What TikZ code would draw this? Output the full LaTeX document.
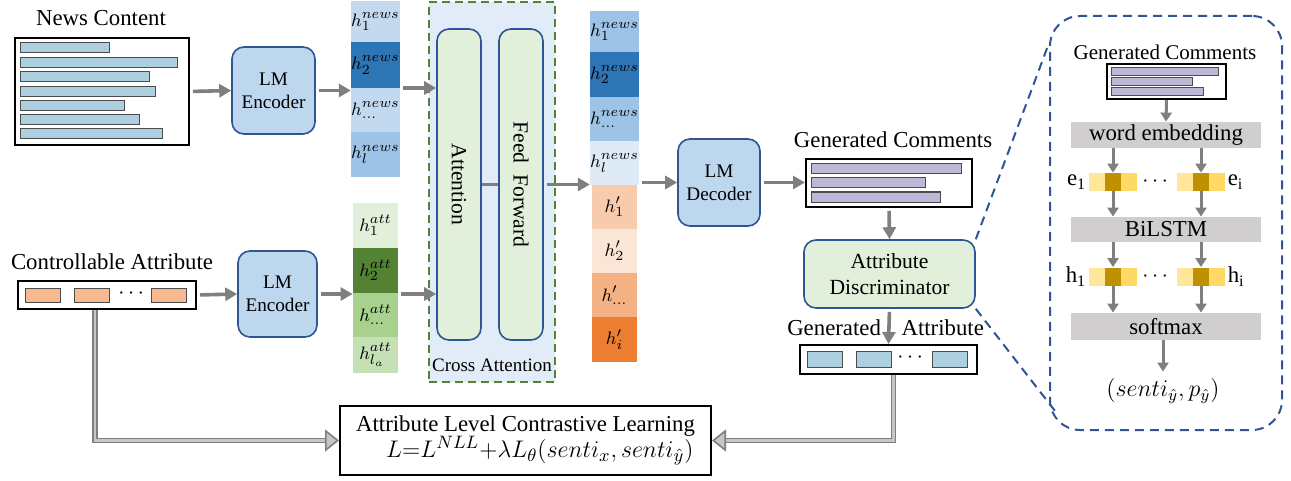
\documentclass[tikz,border=0pt]{standalone}
\usepackage{fontspec}
\setmainfont{Liberation Serif}
\usepackage{amsmath, amssymb}
\usetikzlibrary{arrows.meta, positioning, calc}
\definecolor{EncFill}{HTML}{BDD7EE}
\definecolor{EncLine}{HTML}{2F5597}
\definecolor{BarBlue}{HTML}{AECFE0}
\definecolor{BarPurple}{HTML}{BDB8D6}
\definecolor{AttrOrange}{HTML}{F8B990}
\definecolor{CrossFill}{HTML}{E1ECF8}
\definecolor{CrossLine}{HTML}{548235}
\definecolor{SoftGreen}{HTML}{E2EFDA}
\definecolor{ArrGray}{HTML}{7F7F7F}
\definecolor{BarGray}{HTML}{D0CECE}
% hidden state colours
\definecolor{NewsA}{HTML}{C3D9EF}
\definecolor{NewsB}{HTML}{2E75B6}
\definecolor{NewsC}{HTML}{9DC3E6}
\definecolor{NewsD}{HTML}{DEEBF7}
\definecolor{AttA}{HTML}{E2EFDA}
\definecolor{AttB}{HTML}{548235}
\definecolor{AttC}{HTML}{A9D18E}
\definecolor{AttD}{HTML}{C5E0B4}
\definecolor{OutA}{HTML}{F8CBAD}
\definecolor{OutB}{HTML}{FBE5D6}
\definecolor{OutC}{HTML}{F4B183}
\definecolor{OutD}{HTML}{ED7D31}
\definecolor{EmbA}{HTML}{FFE699}
\definecolor{EmbB}{HTML}{BF9000}
\definecolor{EmbC}{HTML}{FFD966}

\begin{document}
\begin{tikzpicture}[x=0.5pt, y=-0.5pt, font=\fontsize{11.4}{13}\selectfont,
    arr/.style={-{Triangle[length=6pt,width=6.5pt]}, ArrGray, line width=1.8pt, shorten <=1.5pt},
    thinarr/.style={-{Triangle[length=4.5pt,width=5.5pt]}, ArrGray, line width=1.5pt},
    dblarr/.style={-{Triangle[length=7pt,width=11pt,fill=gray!45]}, draw=ArrGray, double=gray!45,
                   double distance=1.3pt, line width=0.8pt},
    lmbox/.style={draw=EncLine, fill=EncFill, line width=0.8pt, rounded corners=6pt,
                  align=center, inner sep=0pt, font=\fontsize{9.6}{11.5}\selectfont},
    greenbox/.style={draw=EncLine, fill=SoftGreen, line width=0.8pt, rounded corners=6pt,
                     align=center, inner sep=0pt},
    cell/.style={minimum width=22.5pt, inner sep=0pt, font=\fontsize{9.5}{11}\selectfont},
    txtbox/.style={draw=black, line width=1pt, fill=white, inner sep=0pt},
    bar/.style={draw=black!70, line width=0.5pt},
    graybar/.style={fill=BarGray, minimum width=95pt, inner sep=0pt},
    embcell/.style={minimum width=8pt, minimum height=9pt, inner sep=0pt}]
  \useasboundingbox (0,0) rectangle (1291,481);

  % News content input
  \node (newslbl) at (101,18) {News Content};
  \node[txtbox, minimum width=87pt, minimum height=53.5pt] (newsbox) at (102,91.5) {};
  \foreach \yy/\xe in {48/109, 62.5/177, 76.5/149, 91.5/155, 105.5/124, 119.5/139, 134/162}
    \draw[bar, fill=BarBlue] (20,\yy-5) rectangle (\xe,\yy+5);

  % Controllable attribute input
  \node (ctrllbl) at (112,262) {Controllable Attribute};
  \node[txtbox, minimum width=89pt, minimum height=14pt] (ctrl) at (107,295) {};
  \foreach \xx in {42.5, 91.5, 168.5}
    \draw[bar, fill=AttrOrange] (\xx-17.5,288) rectangle (\xx+17.5,302);
  \node at (133,294) {$\cdots$};

  % LM encoders
  \node[lmbox, minimum width=41.5pt, minimum height=43.5pt] (enc1) at (273.5,90.5) {LM\\Encoder};
  \node[lmbox, minimum width=39.5pt, minimum height=43pt] (enc2) at (277.5,294) {LM\\Encoder};
  \draw[arr] (newsbox.east) -- (enc1.west);
  \draw[arr] (ctrl.east) -- (enc2.west);

  % news hidden states
  \foreach \yy/\hh/\cc/\lab [count=\i] in {21.5/41/NewsA/{h^{news}_1}, 65/46/NewsB/{h^{news}_2},
      110/44/NewsA/{h^{news}_{\dots}}, 154.5/45/NewsC/{h^{news}_l}}
    \node[cell, fill=\cc, minimum height=\hh*0.5pt] (hn\i) at (375.5,\yy) {$\lab$};

  % attribute hidden states
  \foreach \yy/\hh/\cc/\lab [count=\i] in {225.5/45/AttA/{h^{att}_1}, 270.5/45/AttB/{h^{att}_2},
      315/44/AttC/{h^{att}_{\dots}}, 355/36/AttD/{h^{att}_{l_a}}}
    \node[cell, fill=\cc, minimum height=\hh*0.5pt] (ha\i) at (375.5,\yy) {$\lab$};
  \draw[arr] (enc1.east) -- (enc1.east -| hn1.west);
  \draw[arr] (enc2.east) -- (enc2.east -| ha1.west);

  % Cross attention block
  \node[draw=CrossLine, dash pattern=on 4pt off 2.5pt, fill=CrossFill, line width=1pt,
        minimum width=63pt, minimum height=190pt, inner sep=0pt] (cross) at (492,192) {};
  \node[font=\fontsize{9.5}{11}\selectfont] (crosslbl) at ([yshift=9pt]cross.south) {Cross Attention};
  \node[greenbox, minimum width=22pt, minimum height=155.5pt] (attn) at (459,184.5) {};
  \node[greenbox, minimum width=22pt, minimum height=155.5pt] (ff) at (521,184.5) {};
  \node[rotate=-90, font=\fontsize{10.8}{12}\selectfont] at (attn) {Attention};
  \node[rotate=-90, font=\fontsize{10.8}{12}\selectfont] at (ff) {Feed~~Forward};
  \draw[arr] (hn2.east |- 0,88) -- (attn.west |- 0,88);
  \draw[arr] (ha3.east |- enc2.east) -- (attn.west |- enc2.east);
  \draw[ArrGray, line width=1.8pt] (attn.east) -- (ff.west);

  % fused hidden states
  \foreach \yy/\hh/\cc/\lab [count=\i] in {31.5/41/NewsC/{h^{news}_1}, 74.5/45/NewsB/{h^{news}_2},
      119/44/NewsC/{h^{news}_{\dots}}, 163/44/NewsD/{h^{news}_l}, 207/44/OutA/{h'_1},
      251/44/OutB/{h'_2}, 295/44/OutC/{h'_{\dots}}, 339.5/45/OutD/{h'_i}}
    \node[cell, fill=\cc, minimum height=\hh*0.5pt] (ho\i) at (614.5,\yy) {$\lab$};
  \draw[arr] (ff.east) -- (ff.east -| ho1.west);

  % LM decoder
  \node[lmbox, minimum width=41pt, minimum height=43.5pt] (dec) at (719,182.5) {LM\\Decoder};
  \draw[arr] (ho1.east |- dec.west) -- (dec.west);

  % Generated comments
  \node (gclbl) at (893,140) {Generated Comments};
  \node[txtbox, minimum width=83pt, minimum height=24pt] (gcbox) at (889,183) {};
  \foreach \yy/\xe in {169/961, 183/925, 197/940}
    \draw[bar, fill=BarPurple] (811,\yy-5) rectangle (\xe,\yy+5);
  \draw[arr] (dec.east) -- (dec.east -| gcbox.west);

  % Attribute discriminator
  \node[greenbox, minimum width=85.5pt, minimum height=34pt, font=\fontsize{10.8}{13}\selectfont]
       (disc) at (889.5,274) {Attribute\\Discriminator};
  \draw[arr] (gcbox.south) -- (disc.north);

  % Generated attribute
  \node[anchor=east] (galbl) at (888,328) {Generated};
  \node[anchor=west] (galbl2) at (894.5,328) {Attribute};
  \node[txtbox, minimum width=88.5pt, minimum height=14.5pt] (gabox) at (888.5,359.5) {};
  \foreach \xx in {824.5, 873.5, 950}
    \draw[bar, fill=BarBlue] (\xx-17.5,351) rectangle (\xx+17.5,367);
  \node at (912,358) {$\cdots$};
  \draw[arr] (disc.south) -- (gabox.north);

  % Contrastive loss
  \node[txtbox, minimum width=185.5pt, minimum height=33.5pt, align=left, inner sep=5pt]
       (loss) at (525.5,440.5)
       {Attribute Level Contrastive Learning\\
        \hspace*{15pt}\fontsize{12.5}{14}\selectfont$L{=}L^{NLL}{+}\lambda L_\theta(senti_x, senti_{\hat{y}})$};
  \draw[dblarr] ([xshift=-6pt]ctrl.south) |- (loss.west);
  \draw[dblarr] ([xshift=2.5pt]gabox.south) |- (loss.east);

  % Discriminator detail panel
  \node[draw=EncLine, dash pattern=on 4.5pt off 3pt, line width=1pt, rounded corners=15pt,
        minimum width=116pt, minimum height=207pt, inner sep=0pt] (panel) at (1166,223) {};
  \draw[EncLine, dash pattern=on 4.5pt off 3pt, line width=1pt] (disc.north east) -- ([yshift=-14pt]panel.north west);
  \draw[EncLine, dash pattern=on 4.5pt off 3pt, line width=1pt] (disc.south east) -- ([xshift=3pt,yshift=10pt]panel.south west);

  \node[font=\fontsize{10.5}{12}\selectfont] (pgclbl) at (1165,52) {Generated Comments};
  \node[txtbox, minimum width=59.5pt, minimum height=17.5pt] (pgcbox) at (1166.5,81.5) {};
  \foreach \yy/\xe in {72/1218, 82/1192, 92/1203}
    \draw[bar, fill=BarPurple] (1111,\yy-4) rectangle (\xe,\yy+4);

  \node[graybar, minimum height=13pt] (emb) at (1166,135) {word embedding};
  \node[graybar, minimum height=12.5pt] (bilstm) at (1166,229.5) {BiLSTM};
  \node[graybar, minimum height=13.5pt] (soft) at (1166,326.5) {softmax};
  \draw[thinarr] (pgcbox.south) -- (emb.north);

  % embedding and hidden vectors
  \foreach \pre/\yy in {e/182, h/276.5}{
    \foreach \xx/\cc [count=\j] in {1097/EmbA, 1113/EmbB, 1129/EmbC}
      \node[embcell, fill=\cc] (\pre l\j) at (\xx,\yy) {};
    \foreach \xx/\cc [count=\j] in {1185/EmbA, 1201/EmbB, 1217/EmbC}
      \node[embcell, fill=\cc] (\pre r\j) at (\xx,\yy) {};
    \node at (1157,\yy) {$\cdots$};
  }
  \node[anchor=east, inner sep=1pt] at (el1.west) {e\textsubscript{1}};
  \node[anchor=west, inner sep=1pt] at (er3.east) {e\textsubscript{i}};
  \node[anchor=east, inner sep=1pt] at (hl1.west) {h\textsubscript{1}};
  \node[anchor=west, inner sep=1pt] at (hr3.east) {h\textsubscript{i}};

  \foreach \s in {l, r}{
    \draw[thinarr] (emb.south -| e\s2) -- (e\s2.north);
    \draw[thinarr] (e\s2.south) -- (e\s2.south |- bilstm.north);
    \draw[thinarr] (bilstm.south -| h\s2) -- (h\s2.north);
    \draw[thinarr] (h\s2.south) -- (h\s2.south |- soft.north);
  }
  \node[font=\fontsize{12}{14}\selectfont] (pout) at (1163,391) {$(senti_{\hat{y}}, p_{\hat{y}})$};
  \draw[thinarr] (soft.south -| pout) -- (pout.north);
\end{tikzpicture}
\end{document}
